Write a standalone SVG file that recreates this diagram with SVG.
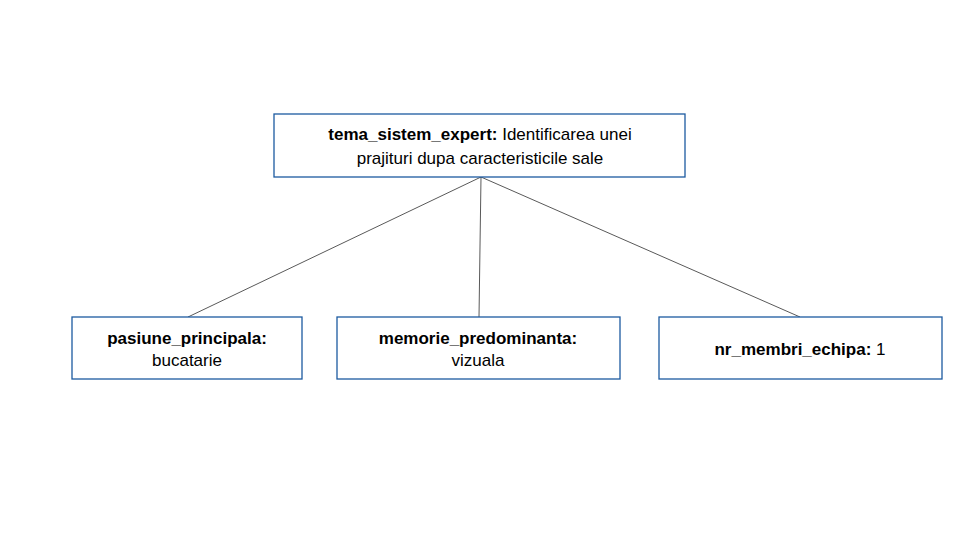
<svg xmlns="http://www.w3.org/2000/svg" width="960" height="540" viewBox="0 0 960 540">
<style>
.box{fill:#fff;stroke:#1c5aa0;stroke-width:1.3}
text{font-family:"Liberation Sans",Arial,sans-serif;font-size:17px;fill:#000;text-anchor:middle}
.b{font-weight:bold}
.c{stroke:#595959;stroke-width:1;fill:none}
</style>
<rect width="960" height="540" fill="#fff"/>
<g id="connectors">
<line class="c" x1="481" y1="177" x2="188" y2="317"/>
<line class="c" x1="481" y1="177" x2="479" y2="317"/>
<line class="c" x1="481" y1="177" x2="800" y2="317"/>
</g>
<g id="root">
<rect class="box" x="274" y="114" width="411" height="63"/>
<text x="480" y="140"><tspan class="b">tema_sistem_expert:</tspan> Identificarea unei</text>
<text x="480" y="164">prajituri dupa caracteristicile sale</text>
</g>
<g id="pasiune">
<rect class="box" x="72" y="317" width="230" height="62"/>
<text x="187" y="344" class="b">pasiune_principala:</text>
<text x="187" y="366">bucatarie</text>
</g>
<g id="memorie">
<rect class="box" x="337" y="317" width="283" height="62"/>
<text x="478" y="344" class="b">memorie_predominanta:</text>
<text x="478" y="366">vizuala</text>
</g>
<g id="membri">
<rect class="box" x="659" y="317" width="283" height="62"/>
<text x="800" y="355"><tspan class="b">nr_membri_echipa:</tspan> 1</text>
</g>
</svg>
